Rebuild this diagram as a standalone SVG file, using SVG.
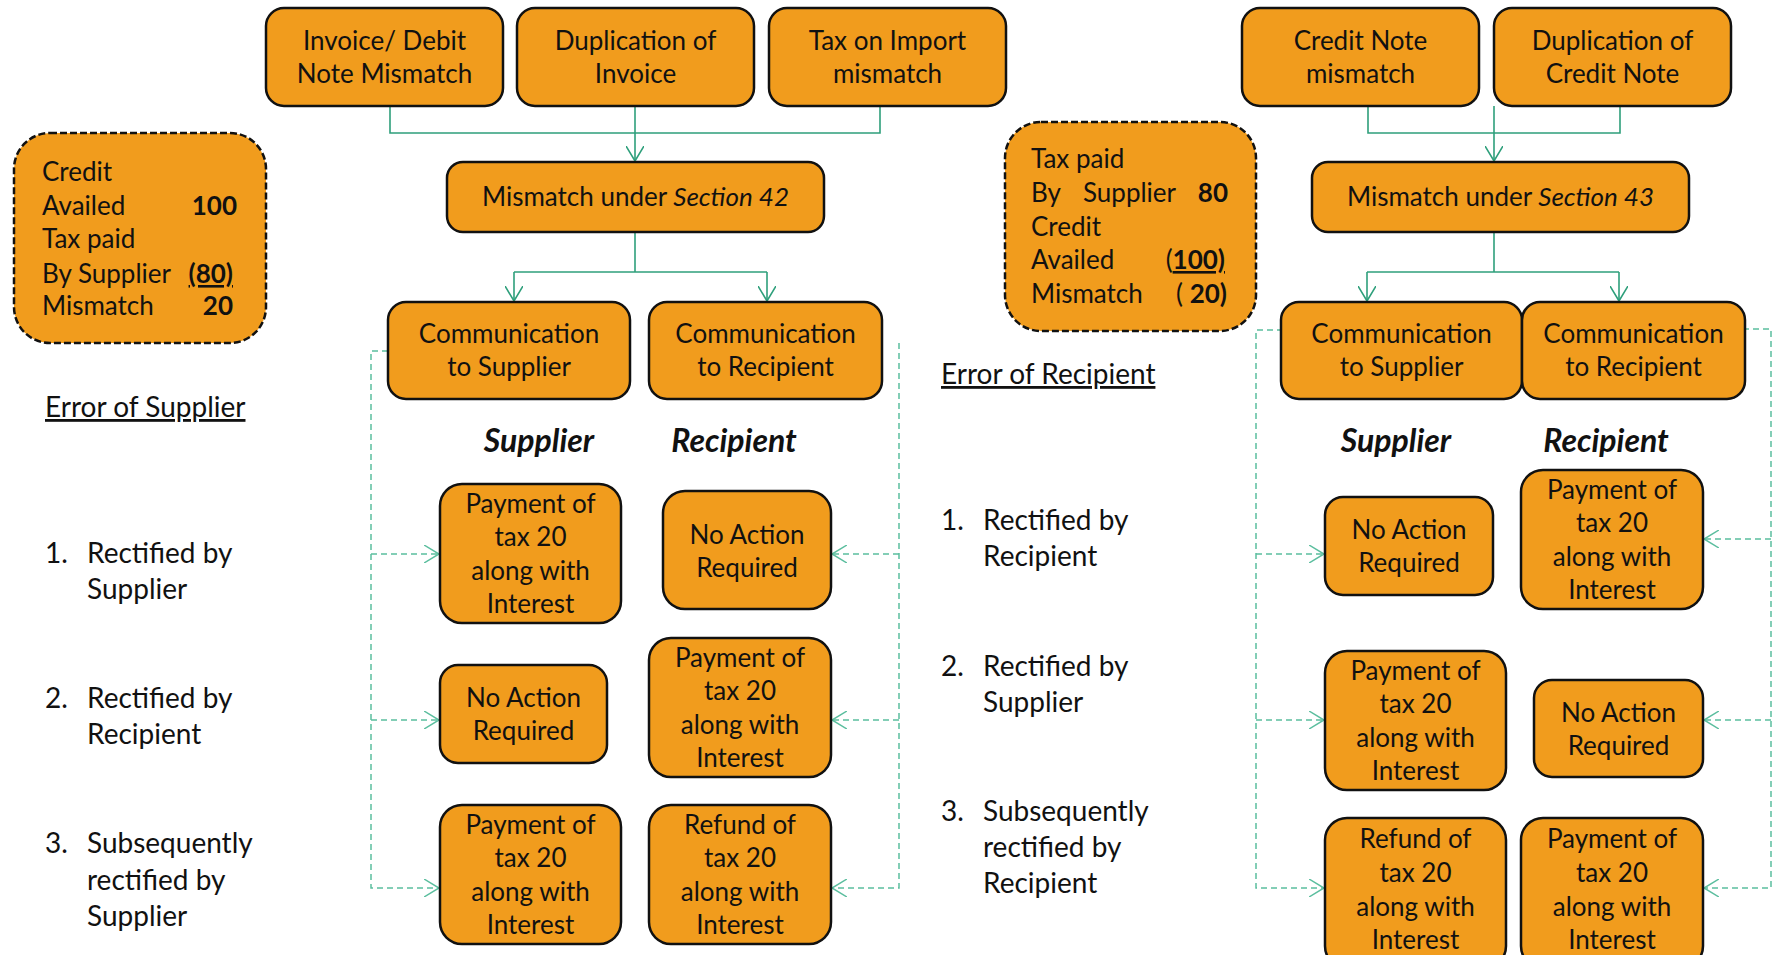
<svg xmlns="http://www.w3.org/2000/svg" width="1773" height="955" viewBox="0 0 1773 955">
<style>
.box{fill:#F19C1D;stroke:#111;stroke-width:2.5}
.dbox{fill:#F19C1D;stroke:#111;stroke-width:2.5;stroke-dasharray:7 3}
text{font-family:Lato,"Open Sans","Liberation Sans",sans-serif;font-size:26px;fill:#111}
.m{text-anchor:middle}
.e{text-anchor:end}
.b{font-weight:bold}
.h{font-weight:bold;font-style:italic;font-size:32px;text-anchor:middle}
.u{text-decoration:underline}
.s{font-size:28px}
.c{fill:none;stroke:#2E9F7B;stroke-width:1.6}
.d{fill:none;stroke:#5BBE9E;stroke-width:1.5;stroke-dasharray:6 4}
</style>
<defs>
<marker id="as" viewBox="0 0 16 18" refX="15" refY="9" markerWidth="16" markerHeight="18" markerUnits="userSpaceOnUse" orient="auto"><path d="M0,0 L15,9 L0,18" fill="none" stroke="#2E9F7B" stroke-width="1.6"/></marker>
<marker id="ad" viewBox="0 0 16 18" refX="15" refY="9" markerWidth="16" markerHeight="18" markerUnits="userSpaceOnUse" orient="auto"><path d="M0,0 L15,9 L0,18" fill="none" stroke="#5BBE9E" stroke-width="1.5"/></marker>
</defs>

<g id="connectors">
<path class="c" d="M390,106 V133 H880 V106"/>
<path class="c" d="M635,106 V161" marker-end="url(#as)"/>
<path class="c" d="M635,232 V272"/>
<path class="c" d="M514,272 H767"/>
<path class="c" d="M514,272 V301" marker-end="url(#as)"/>
<path class="c" d="M767,272 V301" marker-end="url(#as)"/>
<path class="c" d="M1368,106 V133 H1620 V106"/>
<path class="c" d="M1494,106 V161" marker-end="url(#as)"/>
<path class="c" d="M1494,232 V272"/>
<path class="c" d="M1367,272 H1619"/>
<path class="c" d="M1367,272 V301" marker-end="url(#as)"/>
<path class="c" d="M1619,272 V301" marker-end="url(#as)"/>

<path class="d" d="M388,351 H371 V888 H439" marker-end="url(#ad)"/>
<path class="d" d="M371,554 H439" marker-end="url(#ad)"/>
<path class="d" d="M371,720 H439" marker-end="url(#ad)"/>
<path class="d" d="M874,344 L882,350"/>
<path class="d" d="M899,343 V888 H832" marker-end="url(#ad)"/>
<path class="d" d="M899,554 H832" marker-end="url(#ad)"/>
<path class="d" d="M899,720 H832" marker-end="url(#ad)"/>

<path class="d" d="M1283,330 H1256 V888 H1324" marker-end="url(#ad)"/>
<path class="d" d="M1256,554 H1324" marker-end="url(#ad)"/>
<path class="d" d="M1256,720 H1324" marker-end="url(#ad)"/>
<path class="d" d="M1743,329 H1771 V888 H1704" marker-end="url(#ad)"/>
<path class="d" d="M1771,539 H1704" marker-end="url(#ad)"/>
<path class="d" d="M1771,720 H1704" marker-end="url(#ad)"/>
</g>

<g id="n-invoice"><rect class="box" x="266" y="8" width="237" height="98" rx="18"/><text class="m" x="384.5" y="50">Invoice/ Debit</text><text class="m" x="384.5" y="83">Note Mismatch</text></g>
<g id="n-dupinv"><rect class="box" x="517" y="8" width="237" height="98" rx="18"/><text class="m" x="635.5" y="50">Duplication of</text><text class="m" x="635.5" y="83">Invoice</text></g>
<g id="n-import"><rect class="box" x="769" y="8" width="237" height="98" rx="18"/><text class="m" x="887.5" y="50">Tax on Import</text><text class="m" x="887.5" y="83">mismatch</text></g>
<g id="n-sec42"><rect class="box" x="447" y="162" width="377" height="70" rx="16"/><text class="m" x="635.5" y="206">Mismatch under <tspan font-style="italic">Section 42</tspan></text></g>
<g id="n-comsup1"><rect class="box" x="388" y="302" width="242" height="97" rx="18"/><text class="m" x="509" y="343">Communication</text><text class="m" x="509" y="376">to Supplier</text></g>
<g id="n-comrec1"><rect class="box" x="649" y="302" width="233" height="97" rx="18"/><text class="m" x="765.5" y="343">Communication</text><text class="m" x="765.5" y="376">to Recipient</text></g>

<g id="n-calc1"><rect class="dbox" x="14" y="133" width="252" height="210" rx="36"/>
<text x="42" y="181">Credit</text>
<text x="42" y="215">Availed</text><text class="e b" x="237" y="215">100</text>
<text x="42" y="248">Tax paid</text>
<text x="42" y="283">By Supplier</text><text class="e b u" x="233" y="283">(80)</text>
<text x="42" y="315">Mismatch</text><text class="e b" x="233" y="315">20</text>
</g>

<g id="t-err-sup"><text class="u s" x="45" y="417">Error of Supplier</text></g>
<g id="t-list1" class="s">
<text class="s" x="45" y="563">1.</text><text class="s" x="87" y="563">Rectified by</text><text class="s" x="87" y="599">Supplier</text>
<text class="s" x="45" y="708">2.</text><text class="s" x="87" y="708">Rectified by</text><text class="s" x="87" y="744">Recipient</text>
<text class="s" x="45" y="853">3.</text><text class="s" x="87" y="853">Subsequently</text><text class="s" x="87" y="890">rectified by</text><text class="s" x="87" y="926">Supplier</text>
</g>
<g id="t-head1"><text class="h" x="539" y="452">Supplier</text><text class="h" x="734" y="452">Recipient</text></g>

<g id="n-a1"><rect class="box" x="440" y="484" width="181" height="139" rx="22"/><text class="m" x="530.5" y="513">Payment of</text><text class="m" x="530.5" y="546">tax 20</text><text class="m" x="530.5" y="580">along with</text><text class="m" x="530.5" y="613">Interest</text></g>
<g id="n-b1"><rect class="box" x="663" y="491" width="168" height="118" rx="22"/><text class="m" x="747" y="544">No Action</text><text class="m" x="747" y="577">Required</text></g>
<g id="n-a2"><rect class="box" x="440" y="665" width="167" height="98" rx="18"/><text class="m" x="523.5" y="707">No Action</text><text class="m" x="523.5" y="740">Required</text></g>
<g id="n-b2"><rect class="box" x="649" y="638" width="182" height="139" rx="22"/><text class="m" x="740" y="667">Payment of</text><text class="m" x="740" y="700">tax 20</text><text class="m" x="740" y="734">along with</text><text class="m" x="740" y="767">Interest</text></g>
<g id="n-a3"><rect class="box" x="440" y="805" width="181" height="139" rx="22"/><text class="m" x="530.5" y="834">Payment of</text><text class="m" x="530.5" y="867">tax 20</text><text class="m" x="530.5" y="901">along with</text><text class="m" x="530.5" y="934">Interest</text></g>
<g id="n-b3"><rect class="box" x="649" y="805" width="182" height="139" rx="22"/><text class="m" x="740" y="834">Refund of</text><text class="m" x="740" y="867">tax 20</text><text class="m" x="740" y="901">along with</text><text class="m" x="740" y="934">Interest</text></g>

<g id="n-calc2"><rect class="dbox" x="1005" y="122" width="251" height="209" rx="36"/>
<text x="1031" y="168">Tax paid</text>
<text x="1031" y="202">By</text><text x="1083" y="202">Supplier</text><text class="e b" x="1228" y="202">80</text>
<text x="1031" y="236">Credit</text>
<text x="1031" y="269">Availed</text><text class="e" x="1225" y="269">(<tspan class="b u">100)</tspan></text>
<text x="1031" y="303">Mismatch</text><text class="e" x="1227" y="303">( <tspan class="b">20)</tspan></text>
</g>
<g id="t-err-rec"><text class="u s" x="941" y="384">Error of Recipient</text></g>
<g id="t-list2">
<text class="s" x="941" y="530">1.</text><text class="s" x="983" y="530">Rectified by</text><text class="s" x="983" y="566">Recipient</text>
<text class="s" x="941" y="676">2.</text><text class="s" x="983" y="676">Rectified by</text><text class="s" x="983" y="712">Supplier</text>
<text class="s" x="941" y="821">3.</text><text class="s" x="983" y="821">Subsequently</text><text class="s" x="983" y="857">rectified by</text><text class="s" x="983" y="893">Recipient</text>
</g>

<g id="n-cnm"><rect class="box" x="1242" y="8" width="237" height="98" rx="18"/><text class="m" x="1360.5" y="50">Credit Note</text><text class="m" x="1360.5" y="83">mismatch</text></g>
<g id="n-dupcn"><rect class="box" x="1494" y="8" width="237" height="98" rx="18"/><text class="m" x="1612.5" y="50">Duplication of</text><text class="m" x="1612.5" y="83">Credit Note</text></g>
<g id="n-sec43"><rect class="box" x="1312" y="162" width="377" height="70" rx="16"/><text class="m" x="1500.5" y="206">Mismatch under <tspan font-style="italic">Section 43</tspan></text></g>
<g id="n-comsup2"><rect class="box" x="1281" y="302" width="241" height="97" rx="18"/><text class="m" x="1401.5" y="343">Communication</text><text class="m" x="1401.5" y="376">to Supplier</text></g>
<g id="n-comrec2"><rect class="box" x="1522" y="302" width="223" height="97" rx="18"/><text class="m" x="1633.5" y="343">Communication</text><text class="m" x="1633.5" y="376">to Recipient</text></g>
<g id="t-head2"><text class="h" x="1396" y="452">Supplier</text><text class="h" x="1606" y="452">Recipient</text></g>

<g id="n-c1"><rect class="box" x="1325" y="497" width="168" height="98" rx="18"/><text class="m" x="1409" y="539">No Action</text><text class="m" x="1409" y="572">Required</text></g>
<g id="n-d1"><rect class="box" x="1521" y="470" width="182" height="139" rx="22"/><text class="m" x="1612" y="499">Payment of</text><text class="m" x="1612" y="532">tax 20</text><text class="m" x="1612" y="566">along with</text><text class="m" x="1612" y="599">Interest</text></g>
<g id="n-c2"><rect class="box" x="1325" y="651" width="181" height="139" rx="22"/><text class="m" x="1415.5" y="680">Payment of</text><text class="m" x="1415.5" y="713">tax 20</text><text class="m" x="1415.5" y="747">along with</text><text class="m" x="1415.5" y="780">Interest</text></g>
<g id="n-d2"><rect class="box" x="1534" y="680" width="169" height="97" rx="18"/><text class="m" x="1618.5" y="722">No Action</text><text class="m" x="1618.5" y="755">Required</text></g>
<g id="n-c3"><rect class="box" x="1325" y="818" width="181" height="150" rx="22"/><text class="m" x="1415.5" y="848">Refund of</text><text class="m" x="1415.5" y="882">tax 20</text><text class="m" x="1415.5" y="916">along with</text><text class="m" x="1415.5" y="949">Interest</text></g>
<g id="n-d3"><rect class="box" x="1521" y="818" width="182" height="150" rx="22"/><text class="m" x="1612" y="848">Payment of</text><text class="m" x="1612" y="882">tax 20</text><text class="m" x="1612" y="916">along with</text><text class="m" x="1612" y="949">Interest</text></g>
</svg>
